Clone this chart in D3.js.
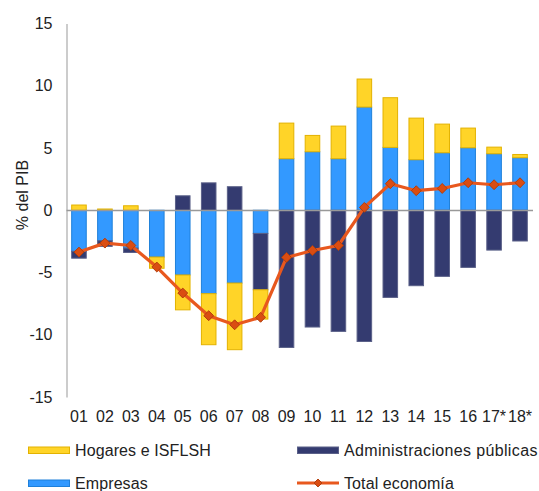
<!DOCTYPE html>
<html><head><meta charset="utf-8">
<script src="https://cdn.jsdelivr.net/npm/d3@7"></script>
<style>body{margin:0;background:#fff}svg{display:block}</style>
</head><body>
<script>
const categories = ["01","02","03","04","05","06","07","08","09","10","11","12","13","14","15","16","17*","18*"];
const empresas = [-3.3,-2.45,-3.04,-3.76,-5.2,-6.7,-5.85,-1.86,4.14,4.7,4.14,8.29,5.05,4.06,4.62,5.02,4.54,4.22];
const administraciones = [-0.55,-0.45,-0.35,0,1.16,2.2,1.89,-4.53,-11.02,-9.38,-9.73,-10.54,-7.0,-6.06,-5.31,-4.59,-3.2,-2.47];
const hogares = [0.42,0.1,0.36,-0.9,-2.8,-4.1,-5.35,-2.35,2.86,1.31,2.62,2.25,3.99,3.34,2.3,1.58,0.53,0.26];
const total = [-3.36,-2.64,-2.83,-4.56,-6.65,-8.47,-9.2,-8.6,-3.79,-3.23,-2.83,0.23,2.13,1.57,1.75,2.21,2.05,2.21];
const yTicks = [15,10,5,0,-5,-10,-15];
const seriesNames = ["Hogares e ISFLSH","Administraciones públicas","Empresas","Total economía"];

const W=539,H=491;
const font="'Liberation Sans', Arial, sans-serif";
const FS=16;
const svg=d3.select("body").append("svg").attr("width",W).attr("height",H);

const x=d3.scaleBand().domain(categories).range([66,533]).paddingInner(0.4).paddingOuter(0.2);
const y=d3.scaleLinear().domain([-15,15]).range([397,23.5]);

const colors={emp:"#3399FF",adm:"#343B70",hog:"#FFD428"};
const strokes={emp:"#1F80DA",adm:"#5A6088",hog:"#E3B200"};

const rows=categories.map((c,i)=>({cat:c,emp:empresas[i],adm:administraciones[i],hog:hogares[i]}));
const keys=["emp","adm","hog"];
const rects=[];
rows.forEach(r=>{
  let pos=0,neg=0;
  keys.forEach(k=>{
    const v=r[k];
    if(v>=0){rects.push({cat:r.cat,k,y0:pos,y1:pos+v});pos+=v;}
    else{rects.push({cat:r.cat,k,y0:neg+v,y1:neg});neg+=v;}
  });
});

const gy=svg.append("g").attr("transform","translate(66.5,0)")
  .call(d3.axisLeft(y).tickValues(yTicks).tickSize(0).tickPadding(14).tickFormat(d=>String(d)));
gy.select(".domain").attr("stroke","#999").attr("stroke-width",1);
gy.selectAll("text").attr("font-family",font).attr("font-size",FS).attr("fill","#222");

svg.append("g").selectAll("rect").data(rects.filter(d=>d.y1!==d.y0)).join("rect")
  .attr("x",d=>x(d.cat)+0.5).attr("width",x.bandwidth()-1)
  .attr("y",d=>y(d.y1)).attr("height",d=>y(d.y0)-y(d.y1))
  .attr("fill",d=>colors[d.k]).attr("stroke",d=>strokes[d.k]).attr("stroke-width",1);

svg.append("line").attr("x1",66.5).attr("x2",533).attr("y1",Math.round(y(0))+0.5).attr("y2",Math.round(y(0))+0.5)
  .attr("stroke","#999").attr("stroke-width",1.3);

svg.append("g").attr("transform","translate(0,397)")
  .call(d3.axisBottom(x).tickSize(0).tickPadding(14))
  .call(g=>g.select(".domain").remove())
  .selectAll("text").attr("font-family",font).attr("font-size",FS).attr("fill","#222");

const cx=d=>x(d)+x.bandwidth()/2;
const line=d3.line().x((d,i)=>cx(categories[i])).y(d=>y(d));
svg.append("path").datum(total).attr("d",line).attr("fill","none")
  .attr("stroke","#E8581E").attr("stroke-width",3.2).attr("stroke-linejoin","round");
const diamond=d3.symbol().type(d3.symbolDiamond2).size(62);
svg.append("g").selectAll("path").data(total).join("path")
  .attr("transform",(d,i)=>`translate(${cx(categories[i])},${y(d)})`)
  .attr("d",diamond).attr("fill","#DA4D12").attr("stroke","#B23E0C").attr("stroke-width",1);

svg.append("text").attr("transform","translate(28,195) rotate(-90)").attr("text-anchor","middle")
  .attr("font-family",font).attr("font-size",FS).attr("fill","#222").text("% del PIB");

const leg=[
  {name:seriesNames[0],x:28,y:450,type:"rect",k:"hog"},
  {name:seriesNames[1],x:297,y:450,type:"rect",k:"adm"},
  {name:seriesNames[2],x:28,y:483,type:"rect",k:"emp"},
  {name:seriesNames[3],x:297,y:483,type:"line"}
];
const lg=svg.append("g");
leg.forEach(l=>{
  if(l.type==="rect"){
    lg.append("rect").attr("x",l.x+0.5).attr("y",l.y-3).attr("width",41).attr("height",6.5)
      .attr("fill",colors[l.k]).attr("stroke",strokes[l.k]).attr("stroke-width",1);
  } else {
    lg.append("line").attr("x1",l.x).attr("x2",l.x+42).attr("y1",l.y).attr("y2",l.y)
      .attr("stroke","#E8581E").attr("stroke-width",3);
    lg.append("path").attr("transform",`translate(${l.x+21},${l.y})`).attr("d",d3.symbol().type(d3.symbolDiamond2).size(40))
      .attr("fill","#DA4D12").attr("stroke","#B23E0C").attr("stroke-width",1);
  }
  lg.append("text").attr("x",l.x+47).attr("y",l.y+5.5).attr("font-family",font).attr("font-size",FS)
    .attr("fill","#222").attr("letter-spacing",l.k==="adm"?0.35:0.1).text(l.name);
});
</script>
</body></html>
